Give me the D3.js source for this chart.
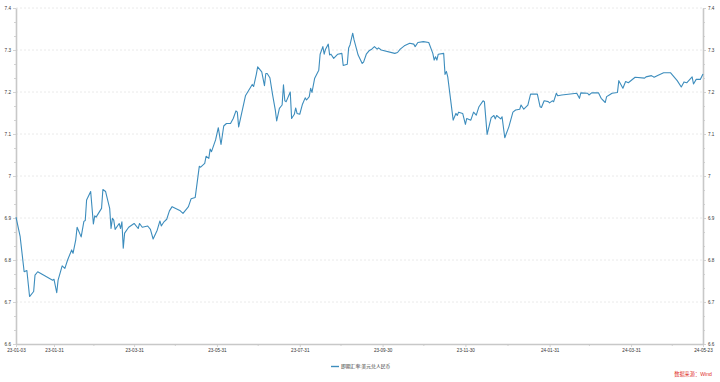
<!DOCTYPE html>
<html><head><meta charset="utf-8">
<script src="https://cdn.jsdelivr.net/npm/d3@7"></script>
<style>
html,body{margin:0;padding:0;background:#fff;}
svg{display:block;font-family:"Liberation Sans","Noto Sans CJK SC",sans-serif;}
</style></head>
<body><svg id="chart" width="720" height="382"></svg>
<script>
const seriesName = "即期汇率:美元兑人民币";
const sourceText = "数据来源：Wind";
const dates = [
"2023-01-03","2023-01-06","2023-01-09","2023-01-11","2023-01-13","2023-01-16","2023-01-17","2023-01-19","2023-01-30","2023-01-31",
"2023-02-02","2023-02-03","2023-02-06","2023-02-08","2023-02-10","2023-02-13","2023-02-14","2023-02-16","2023-02-17","2023-02-20",
"2023-02-22","2023-02-23","2023-02-24","2023-02-27","2023-03-01","2023-03-02","2023-03-03","2023-03-07","2023-03-08","2023-03-10",
"2023-03-13","2023-03-14","2023-03-15","2023-03-16","2023-03-17","2023-03-20","2023-03-21","2023-03-22","2023-03-23","2023-03-24",
"2023-03-27","2023-03-31","2023-04-03","2023-04-04","2023-04-06","2023-04-10","2023-04-12","2023-04-14","2023-04-17","2023-04-19",
"2023-04-20","2023-04-22","2023-04-24","2023-04-26","2023-04-28","2023-05-04","2023-05-06","2023-05-09","2023-05-10","2023-05-12",
"2023-05-15","2023-05-18","2023-05-19","2023-05-22","2023-05-23","2023-05-25","2023-05-26","2023-05-27","2023-05-30","2023-06-01",
"2023-06-03","2023-06-05","2023-06-07","2023-06-10","2023-06-12","2023-06-14","2023-06-15","2023-06-16","2023-06-21","2023-06-26",
"2023-06-27","2023-06-29","2023-06-30","2023-07-03","2023-07-05","2023-07-06","2023-07-07","2023-07-09","2023-07-11","2023-07-13",
"2023-07-14","2023-07-16","2023-07-18","2023-07-19","2023-07-20","2023-07-21","2023-07-24","2023-07-25","2023-07-27","2023-07-28",
"2023-07-29","2023-07-31","2023-08-02","2023-08-04","2023-08-05","2023-08-07","2023-08-08","2023-08-09","2023-08-11","2023-08-14",
"2023-08-15","2023-08-17","2023-08-18","2023-08-19","2023-08-21","2023-08-22","2023-08-23","2023-08-25","2023-08-28","2023-08-31",
"2023-09-01","2023-09-04","2023-09-05","2023-09-06","2023-09-08","2023-09-09","2023-09-12","2023-09-15","2023-09-16","2023-09-18",
"2023-09-20","2023-09-22","2023-09-24","2023-09-26","2023-09-27","2023-09-29","2023-10-09","2023-10-11","2023-10-13","2023-10-16",
"2023-10-18","2023-10-20","2023-10-23","2023-10-24","2023-10-26","2023-10-30","2023-11-03","2023-11-06","2023-11-07","2023-11-08",
"2023-11-09","2023-11-10","2023-11-14","2023-11-15","2023-11-16","2023-11-17","2023-11-21","2023-11-23","2023-11-24","2023-11-25",
"2023-11-28","2023-11-30","2023-12-01","2023-12-04","2023-12-06","2023-12-08","2023-12-10","2023-12-13","2023-12-14","2023-12-16",
"2023-12-19","2023-12-21","2023-12-22","2023-12-23","2023-12-26","2023-12-27","2023-12-29","2024-01-01","2024-01-04","2024-01-06",
"2024-01-09","2024-01-10","2024-01-12","2024-01-15","2024-01-17","2024-01-20","2024-01-22","2024-01-24","2024-01-25","2024-01-27",
"2024-01-30","2024-01-31","2024-02-02","2024-02-03","2024-02-05","2024-02-06","2024-02-09","2024-02-20","2024-02-22","2024-02-23",
"2024-02-28","2024-02-29","2024-03-02","2024-03-07","2024-03-09","2024-03-12","2024-03-13","2024-03-15","2024-03-17","2024-03-21",
"2024-03-22","2024-03-23","2024-03-25","2024-03-27","2024-03-29","2024-04-03","2024-04-10","2024-04-11","2024-04-15","2024-04-17",
"2024-04-20","2024-04-24","2024-04-29","2024-05-04","2024-05-07","2024-05-09","2024-05-11","2024-05-15","2024-05-16","2024-05-18",
"2024-05-21","2024-05-23"];
const rates = [
6.902,6.857,6.772,6.775,6.713,6.725,6.764,6.772,6.752,6.754,
6.722,6.752,6.786,6.780,6.800,6.824,6.816,6.848,6.878,6.855,
6.892,6.894,6.943,6.963,6.886,6.905,6.902,6.923,6.968,6.963,
6.923,6.875,6.899,6.895,6.873,6.887,6.875,6.891,6.828,6.864,
6.878,6.887,6.875,6.887,6.878,6.881,6.873,6.850,6.871,6.893,
6.881,6.891,6.897,6.917,6.927,6.917,6.911,6.923,6.927,6.946,
6.949,7.023,7.021,7.030,7.047,7.042,7.064,7.058,7.086,7.115,
7.075,7.119,7.125,7.125,7.137,7.155,7.152,7.117,7.191,7.218,
7.213,7.242,7.260,7.248,7.215,7.244,7.244,7.234,7.193,7.157,
7.131,7.161,7.169,7.217,7.179,7.177,7.200,7.137,7.147,7.162,
7.149,7.147,7.171,7.186,7.181,7.189,7.209,7.199,7.233,7.252,
7.290,7.308,7.290,7.302,7.314,7.288,7.290,7.280,7.290,7.292,
7.263,7.266,7.305,7.312,7.340,7.324,7.288,7.268,7.271,7.290,
7.298,7.302,7.308,7.302,7.305,7.300,7.292,7.294,7.302,7.310,
7.313,7.316,7.314,7.308,7.318,7.320,7.318,7.292,7.276,7.284,
7.276,7.290,7.292,7.242,7.249,7.236,7.133,7.149,7.144,7.152,
7.149,7.123,7.137,7.133,7.152,7.145,7.165,7.179,7.177,7.099,
7.139,7.144,7.136,7.144,7.136,7.141,7.091,7.117,7.152,7.157,
7.159,7.169,7.159,7.169,7.195,7.195,7.195,7.165,7.163,7.179,
7.177,7.174,7.179,7.177,7.197,7.191,7.193,7.197,7.185,7.198,
7.197,7.193,7.198,7.198,7.185,7.175,7.189,7.193,7.197,7.199,
7.227,7.221,7.209,7.225,7.222,7.235,7.233,7.236,7.239,7.235,
7.240,7.246,7.246,7.227,7.212,7.224,7.222,7.236,7.219,7.230,
7.230,7.243];
const xTickLabels = ["23-01-03","23-01-31","23-03-31","23-05-31","23-07-31","23-09-30","23-11-30","24-01-31","24-03-31","24-05-23"];
const xMinorTicks = ["2023-03-01","2023-04-30","2023-06-30","2023-08-30","2023-10-30","2023-12-31","2024-02-29","2024-04-30"];
const yTicks = [6.6,6.7,6.8,6.9,7,7.1,7.2,7.3,7.4];

const parse = d3.timeParse("%Y-%m-%d");
const parseTick = d3.timeParse("%y-%m-%d");
const data = dates.map((d,i)=>({date:parse(d), v:rates[i]}));

const svg = d3.select("#chart");
const L = 16, R = 703, T = 8, B = 344;
const x = d3.scaleTime().domain([parse("2023-01-03"), parse("2024-05-23")]).range([L, R]);
const y = d3.scaleLinear().domain([6.6, 7.4]).range([B, T]);

const axisColor = "#c8c8c8", textColor = "#333", fs = "4.6px";

// gridlines
svg.append("g").selectAll("line").data(yTicks.filter(t=>t>6.6)).join("line")
  .attr("x1", L).attr("x2", R).attr("y1", d=>y(d)).attr("y2", d=>y(d))
  .attr("stroke", "#e4e4e4").attr("stroke-width", 0.8).attr("stroke-dasharray", "2,2");

// minor y ticks
const yMinor = [];
for (let i = 0; i < yTicks.length-1; i++) { yMinor.push(yTicks[i] + 0.1/3, yTicks[i] + 0.2/3); }

function styleAxis(g){
  g.select(".domain").attr("stroke", axisColor).attr("stroke-width", 1.6);
  g.selectAll(".tick line").attr("stroke", axisColor).attr("stroke-width", 0.8);
  g.selectAll(".tick text").attr("fill", textColor).style("font-size", fs);
}

const yLeft = svg.append("g").attr("transform", `translate(${L},0)`)
  .call(d3.axisLeft(y).tickValues(yTicks).tickSize(3).tickSizeOuter(0).tickPadding(2).tickFormat(d3.format("~g")));
styleAxis(yLeft);
svg.append("g").attr("transform", `translate(${L},0)`)
  .call(d3.axisLeft(y).tickValues(yMinor).tickSize(2).tickFormat("")).call(g=>{g.select(".domain").remove(); g.selectAll("line").attr("stroke", axisColor).attr("stroke-width",0.8);});

const yRight = svg.append("g").attr("transform", `translate(${R},0)`)
  .call(d3.axisRight(y).tickValues(yTicks).tickSize(3).tickSizeOuter(0).tickPadding(2).tickFormat(d3.format("~g")));
styleAxis(yRight);
svg.append("g").attr("transform", `translate(${R},0)`)
  .call(d3.axisRight(y).tickValues(yMinor).tickSize(2).tickFormat("")).call(g=>{g.select(".domain").remove(); g.selectAll("line").attr("stroke", axisColor).attr("stroke-width",0.8);});

const xBottom = svg.append("g").attr("transform", `translate(0,${B})`)
  .call(d3.axisBottom(x).tickValues(xTickLabels.map(parseTick)).tickSize(3).tickSizeOuter(0).tickPadding(2).tickFormat(d3.timeFormat("%y-%m-%d")));
styleAxis(xBottom);
svg.append("g").attr("transform", `translate(0,${B})`)
  .call(d3.axisBottom(x).tickValues(xMinorTicks.map(parse)).tickSize(2).tickFormat("")).call(g=>{g.select(".domain").remove(); g.selectAll("line").attr("stroke", axisColor).attr("stroke-width",0.8);});

// line
const lineColor = "#3d8dbd";
svg.append("path").datum(data)
  .attr("fill", "none").attr("stroke", lineColor).attr("stroke-width", 1.1).attr("stroke-linejoin", "round")
  .attr("d", d3.line().x(d=>x(d.date)).y(d=>y(d.v)));

// legend
const lg = svg.append("g").attr("transform", "translate(331,366.5)");
lg.append("line").attr("x1",0).attr("x2",8).attr("y1",0).attr("y2",0).attr("stroke", lineColor).attr("stroke-width", 1.4);
lg.append("text").attr("x", 10).attr("y", 0).attr("dy", "0.35em").attr("fill", textColor).style("font-size", "4.8px").text(seriesName);

// source
svg.append("text").attr("x", 712).attr("y", 374).attr("dy","0.35em").attr("text-anchor","end")
  .attr("fill", "#e0302a").style("font-size", "5.2px").text(sourceText);
</script></body></html>
